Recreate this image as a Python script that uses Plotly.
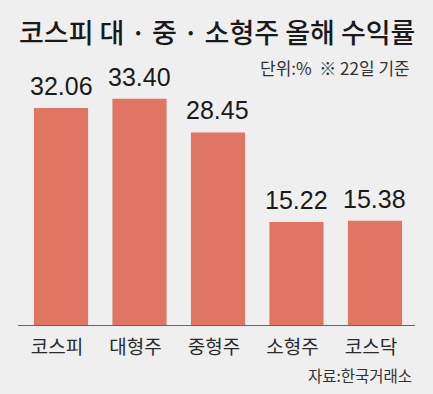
import plotly.graph_objects as go

categories = ["코스피", "대형주", "중형주", "소형주", "코스닥"]
returns = [32.06, 33.40, 28.45, 15.22, 15.38]
value_labels = ["32.06", "33.40", "28.45", "15.22", "15.38"]

title_text = "코스피 대 · 중 · 소형주 올해 수익률"
unit_text = "단위:%  ※ 22일 기준"
source_text = "자료:한국거래소"

BG = "#efefef"
BAR = "#e07563"
KR = "Noto Sans CJK KR, Noto Sans, sans-serif"
NUM = "Liberation Sans Narrow, Arial Narrow, Liberation Sans, sans-serif"

xs = list(range(len(categories)))

fig = go.Figure(go.Bar(
    x=xs,
    y=returns,
    width=0.69,
    marker=dict(color=BAR, line=dict(width=0)),
    cliponaxis=False,
    hoverinfo="skip",
))

value_annotations = [
    dict(text=lab, x=xi, y=val, xref="x", yref="y",
         xanchor="center", yanchor="bottom", showarrow=False,
         font=dict(family=NUM, size=25, color="#1a1a1a"),
         yshift=6)
    for xi, val, lab in zip(xs, returns, value_labels)
]

fig.update_layout(
    width=433, height=394,
    margin=dict(l=18, r=18, t=60, b=69, autoexpand=False),
    paper_bgcolor=BG, plot_bgcolor=BG,
    showlegend=False,
    xaxis=dict(
        range=[-0.548, 4.51],
        autorange=False,
        tickmode="array",
        tickvals=xs,
        ticktext=categories,
        tickfont=dict(family=KR, size=19, color="#2a2a2a"),
        ticklabelshift=-4,
        ticklabelstandoff=5,
        showline=True, linecolor="#666666", linewidth=1,
        showgrid=False, zeroline=False, ticks="",
        fixedrange=True, automargin=False,
    ),
    yaxis=dict(
        range=[0, 39.14],
        autorange=False,
        visible=False,
        showline=False, showgrid=False, zeroline=False,
        fixedrange=True, automargin=False,
    ),
    annotations=value_annotations + [
        dict(text=title_text, xref="paper", yref="paper", x=0.5, y=1.0,
             xanchor="center", yanchor="middle", showarrow=False,
             font=dict(family=KR, size=27, color="#1a1a1a", weight=500),
             yshift=29),
        dict(text=unit_text, xref="paper", yref="paper", x=1.0, y=1.0,
             xanchor="right", yanchor="middle", showarrow=False,
             font=dict(family=KR, size=17, color="#333333"),
             xshift=-3, yshift=-7),
        dict(text=source_text, xref="paper", yref="paper", x=1.0, y=0.0,
             xanchor="right", yanchor="middle", showarrow=False,
             font=dict(family=KR, size=15.5, color="#333333"),
             xshift=-1, yshift=-50),
    ],
)

fig.write_html(
    "out.html",
    config={"displayModeBar": False},
    post_script="document.body.style.margin='0';document.body.style.background='#efefef';",
)
